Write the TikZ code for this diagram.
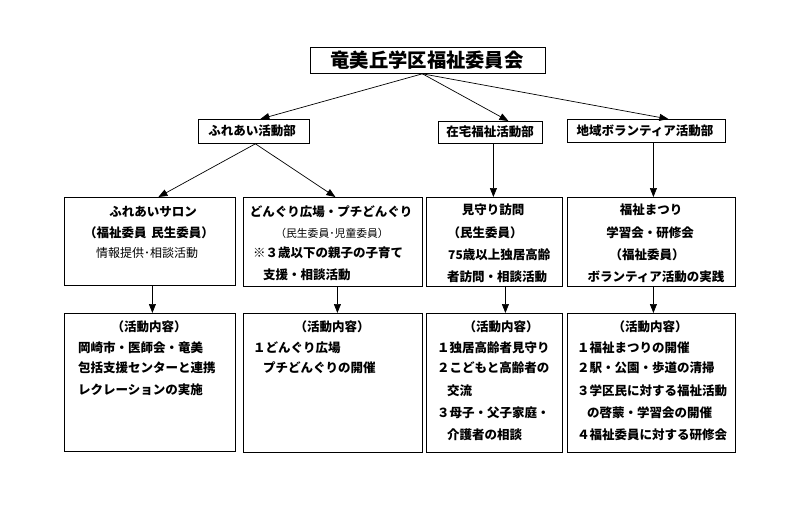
\documentclass[tikz,border=0pt]{standalone}
\usepackage{fontspec}
\usetikzlibrary{arrows.meta}
\newfontfamily\jp{Noto Sans CJK JP}
\newcommand\jb{\jp\bfseries\fontsize{12.5}{14}\selectfont}
\newcommand\jr{\jp\fontsize{12}{14}\selectfont}
\newcommand\jrs{\jp\fontsize{10.8}{12}\selectfont}
\newcommand\jt{\jp\bfseries\fontsize{19.3}{22}\selectfont}
\tikzset{
  box/.style={draw=black, line width=0.8pt, inner sep=0pt, anchor=north west},
  arr/.style={draw=black, line width=0.7pt, -{Triangle[length=9pt,width=7pt]}},
  tb/.style={inner sep=0pt, font=\jb},
  tr/.style={inner sep=0pt, font=\jr},
  trs/.style={inner sep=0pt, font=\jrs},
  tl/.style={anchor=west},
}
\begin{document}
\begin{tikzpicture}[x=1pt,y=-1pt]
\useasboundingbox[fill=white] (0,0) rectangle (800,514);
% boxes
\node[box, minimum width=235pt, minimum height=26pt] (title) at (310,47) {};
\node[box, minimum width=111pt, minimum height=24pt] (fdept) at (198,119) {};
\node[box, minimum width=104pt, minimum height=22pt] (zdept) at (438,121) {};
\node[box, minimum width=158pt, minimum height=23pt] (cdept) at (567,119) {};
\node[box, minimum width=171pt, minimum height=88pt] (salon) at (64,197) {};
\node[box, minimum width=179pt, minimum height=89pt] (dong) at (243,197) {};
\node[box, minimum width=136pt, minimum height=89pt] (mima) at (426,197) {};
\node[box, minimum width=168pt, minimum height=89pt] (fuku) at (567,197) {};
\node[box, minimum width=171pt, minimum height=138pt] (salonc) at (64,313) {};
\node[box, minimum width=179pt, minimum height=139pt] (dongc) at (243,313) {};
\node[box, minimum width=136pt, minimum height=139pt] (mimac) at (426,313) {};
\node[box, minimum width=168pt, minimum height=139pt] (fukuc) at (567,313) {};
% top texts
\node[inner sep=0pt, font=\jt] (ttitle) at (427,60) {竜美丘学区福祉委員会};
\node[tb] (tf) at (252,131) {ふれあい活動部};
\node[tb] (tz) at (490,132) {在宅福祉活動部};
\node[tb] (tc) at (645,130.5) {地域ボランティア活動部};
% row 2 texts
\node[tb] (s1) at (153,212) {ふれあいサロン};
\node[tb] (s2) at (149,233) {（福祉委員\hspace{0.4em}民生委員）};
\node[tr] (s3) at (147,253) {情報提供･相談活動};
\node[tb] (d1) at (331,212) {どんぐり広場・プチどんぐり};
\node[trs] (d2) at (332,233) {（民生委員･児童委員）};
\node[tb,tl] (d3) at (253,253) {※３歳以下の親子の子育て};
\node[tb,tl] (d4) at (263,275) {支援・相談活動};
\node[tb] (m1) at (493,210) {見守り訪問};
\node[tb] (m2) at (485,233) {（民生委員）};
\node[tb,tl] (m3) at (448,255) {{\jr 75}歳以上独居高齢};
\node[tb,tl] (m4) at (447,277) {者訪問・相談活動};
\node[tb] (f1) at (651,210) {福祉まつり};
\node[tb] (f2) at (650,233) {学習会・研修会};
\node[tb] (f3) at (647,255) {（福祉委員）};
\node[tb] (f4) at (656,277) {ボランティア活動の実践};
% row 3 texts
\node[tb] (sc0) at (149,327) {（活動内容）};
\node[tb,tl] (sc1) at (78,348) {岡崎市・医師会・竜美};
\node[tb,tl] (sc2) at (78,368) {包括支援センターと連携};
\node[tb,tl] (sc3) at (78,390) {レクレーションの実施};
\node[tb] (dc0) at (332,327) {（活動内容）};
\node[tb,tl] (dc1) at (253,348) {１どんぐり広場};
\node[tb,tl] (dc2) at (263,368) {プチどんぐりの開催};
\node[tb] (mc0) at (501,327) {（活動内容）};
\node[tb,tl] (mc1) at (437,348) {１独居高齢者見守り};
\node[tb,tl] (mc2) at (437,368) {２こどもと高齢者の};
\node[tb,tl] (mc3) at (447,391) {交流};
\node[tb,tl] (mc4) at (437,413) {３母子・父子家庭・};
\node[tb,tl] (mc5) at (447,435) {介護者の相談};
\node[tb] (fc0) at (650,327) {（活動内容）};
\node[tb,tl] (fc1) at (577,348) {１福祉まつりの開催};
\node[tb,tl] (fc2) at (577,368) {２駅・公園・歩道の清掃};
\node[tb,tl] (fc3) at (577,391) {３学区民に対する福祉活動};
\node[tb,tl] (fc4) at (587,413) {の啓蒙・学習会の開催};
\node[tb,tl] (fc5) at (577,435) {４福祉委員に対する研修会};
% connectors
\draw[arr] ([xshift=-5.5pt]title.south) -- ([xshift=6.5pt]fdept.north);
\draw[arr] ([xshift=-5.5pt]title.south) -- ([xshift=18pt]zdept.north);
\draw[arr] ([xshift=-5.5pt]title.south) -- ([xshift=22pt]cdept.north);
\draw[arr] ([xshift=1.5pt]fdept.south) -- ([xshift=8.5pt]salon.north);
\draw[arr] ([xshift=1.5pt]fdept.south) -- ([xshift=2.5pt]dong.north);
\draw[arr] ([xshift=3pt]zdept.south) -- ([xshift=3pt]zdept.south |- mima.north);
\draw[arr] ([xshift=7pt]cdept.south) -- ([xshift=7pt]cdept.south |- fuku.north);
\draw[arr] ([xshift=2.5pt]salon.south) -- ([xshift=2.5pt]salon.south |- salonc.north);
\draw[arr] ([xshift=4.5pt]dong.south) -- ([xshift=4.5pt]dong.south |- dongc.north);
\draw[arr] ([xshift=11pt]mima.south) -- ([xshift=11pt]mima.south |- mimac.north);
\draw[arr] ([xshift=2pt]fuku.south) -- ([xshift=2pt]fuku.south |- fukuc.north);
\end{tikzpicture}
\end{document}
